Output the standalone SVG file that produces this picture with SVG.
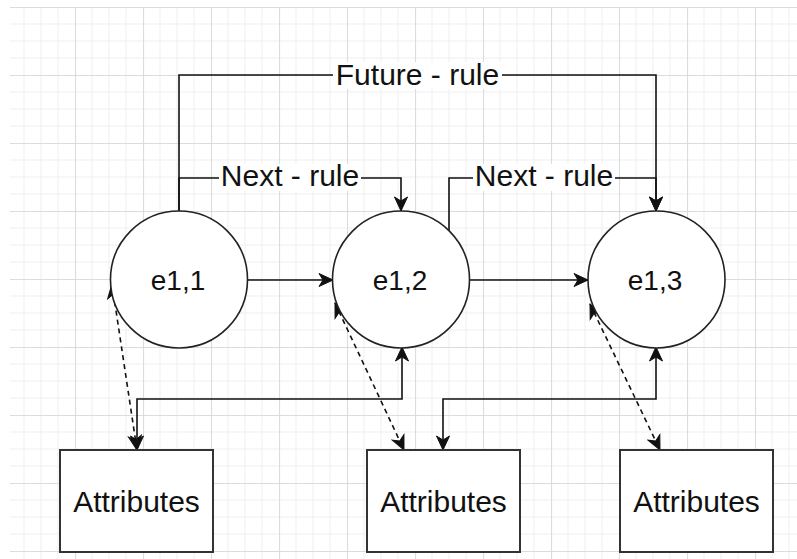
<svg xmlns="http://www.w3.org/2000/svg" width="797" height="559" viewBox="0 0 797 559">
  <defs>
    <pattern id="grid" patternUnits="userSpaceOnUse" x="7" y="7" width="68" height="68">
      <path d="M17,0 V68 M34,0 V68 M51,0 V68 M0,17 H68 M0,34 H68 M0,51 H68" stroke="#efefef" stroke-width="1" fill="none"/>
      <path d="M0.5,0 V68 M0,0.5 H68" stroke="#dcdcdc" stroke-width="1.2" fill="none"/>
    </pattern>
    <marker id="arrow" markerUnits="userSpaceOnUse" viewBox="-15 -8 16 16" refX="0" refY="0" markerWidth="16" markerHeight="16" orient="auto-start-reverse">
      <path d="M0,0 L-14,-6.5 L-10,0 L-14,6.5 Z" fill="#111" stroke="#111" stroke-width="1"/>
    </marker>
    <style>
      .node { fill: #ffffff; stroke: #222222; stroke-width: 1.6; }
      .box { fill: #ffffff; stroke: #333333; stroke-width: 2; }
      .label { font-family: "Liberation Sans", Arial, sans-serif; fill: #111111; text-anchor: middle; }
      .edge { fill: none; stroke: #111111; stroke-width: 1.6; }
      .dash { stroke-dasharray: 5 4; }
      .lbl-bg { fill: #ffffff; }
    </style>
  </defs>

  <!-- canvas grid -->
  <rect x="0" y="0" width="797" height="559" fill="#ffffff"/>
  <rect x="10" y="7" width="787" height="552" fill="url(#grid)"/>

  <!-- connectors -->
  <g id="connectors">
    <path class="edge" d="M179,211 V75 H656 V211" marker-end="url(#arrow)"/>
    <path class="edge" d="M179,211 V178 H401 V211" marker-end="url(#arrow)"/>
    <path class="edge" d="M449,231 V178 H656 V211" marker-end="url(#arrow)"/>
    <path class="edge" d="M248,280 H333" marker-end="url(#arrow)"/>
    <path class="edge" d="M469,280 H588" marker-end="url(#arrow)"/>
    <path class="edge" d="M137,450 V399 H402 V347" marker-start="url(#arrow)" marker-end="url(#arrow)"/>
    <path class="edge" d="M443,450 V399 H656 V347" marker-start="url(#arrow)" marker-end="url(#arrow)"/>
    <path class="edge dash" d="M112,284 L137,450" marker-start="url(#arrow)" marker-end="url(#arrow)"/>
    <path class="edge dash" d="M335,303 L404,450" marker-start="url(#arrow)" marker-end="url(#arrow)"/>
    <path class="edge dash" d="M590,304 L660,450" marker-start="url(#arrow)" marker-end="url(#arrow)"/>

    <!-- edge labels -->
    <rect class="lbl-bg" x="333" y="62" width="169" height="27"/>
    <text class="label" x="417.5" y="85" font-size="30">Future - rule</text>
    <rect class="lbl-bg" x="219" y="164" width="142" height="27"/>
    <text class="label" x="290" y="186" font-size="30">Next - rule</text>
    <rect class="lbl-bg" x="473" y="164" width="142" height="27"/>
    <text class="label" x="544" y="186" font-size="30">Next - rule</text>
  </g>

  <!-- event nodes -->
  <g id="e1-1">
    <circle class="node" cx="179" cy="279.5" r="68.5"/>
    <text class="label" x="178" y="290" font-size="28">e1,1</text>
  </g>
  <g id="e1-2">
    <circle class="node" cx="401" cy="279.5" r="68.5"/>
    <text class="label" x="400" y="290" font-size="28">e1,2</text>
  </g>
  <g id="e1-3">
    <circle class="node" cx="656.5" cy="279.5" r="68.5"/>
    <text class="label" x="655" y="290" font-size="28">e1,3</text>
  </g>

  <!-- attribute boxes -->
  <g id="attributes-1">
    <rect class="box" x="60" y="450" width="153" height="102"/>
    <text class="label" x="136.5" y="512" font-size="30">Attributes</text>
  </g>
  <g id="attributes-2">
    <rect class="box" x="367" y="450" width="153" height="102"/>
    <text class="label" x="443.5" y="512" font-size="30">Attributes</text>
  </g>
  <g id="attributes-3">
    <rect class="box" x="620" y="450" width="153" height="102"/>
    <text class="label" x="696.5" y="512" font-size="30">Attributes</text>
  </g>
</svg>
